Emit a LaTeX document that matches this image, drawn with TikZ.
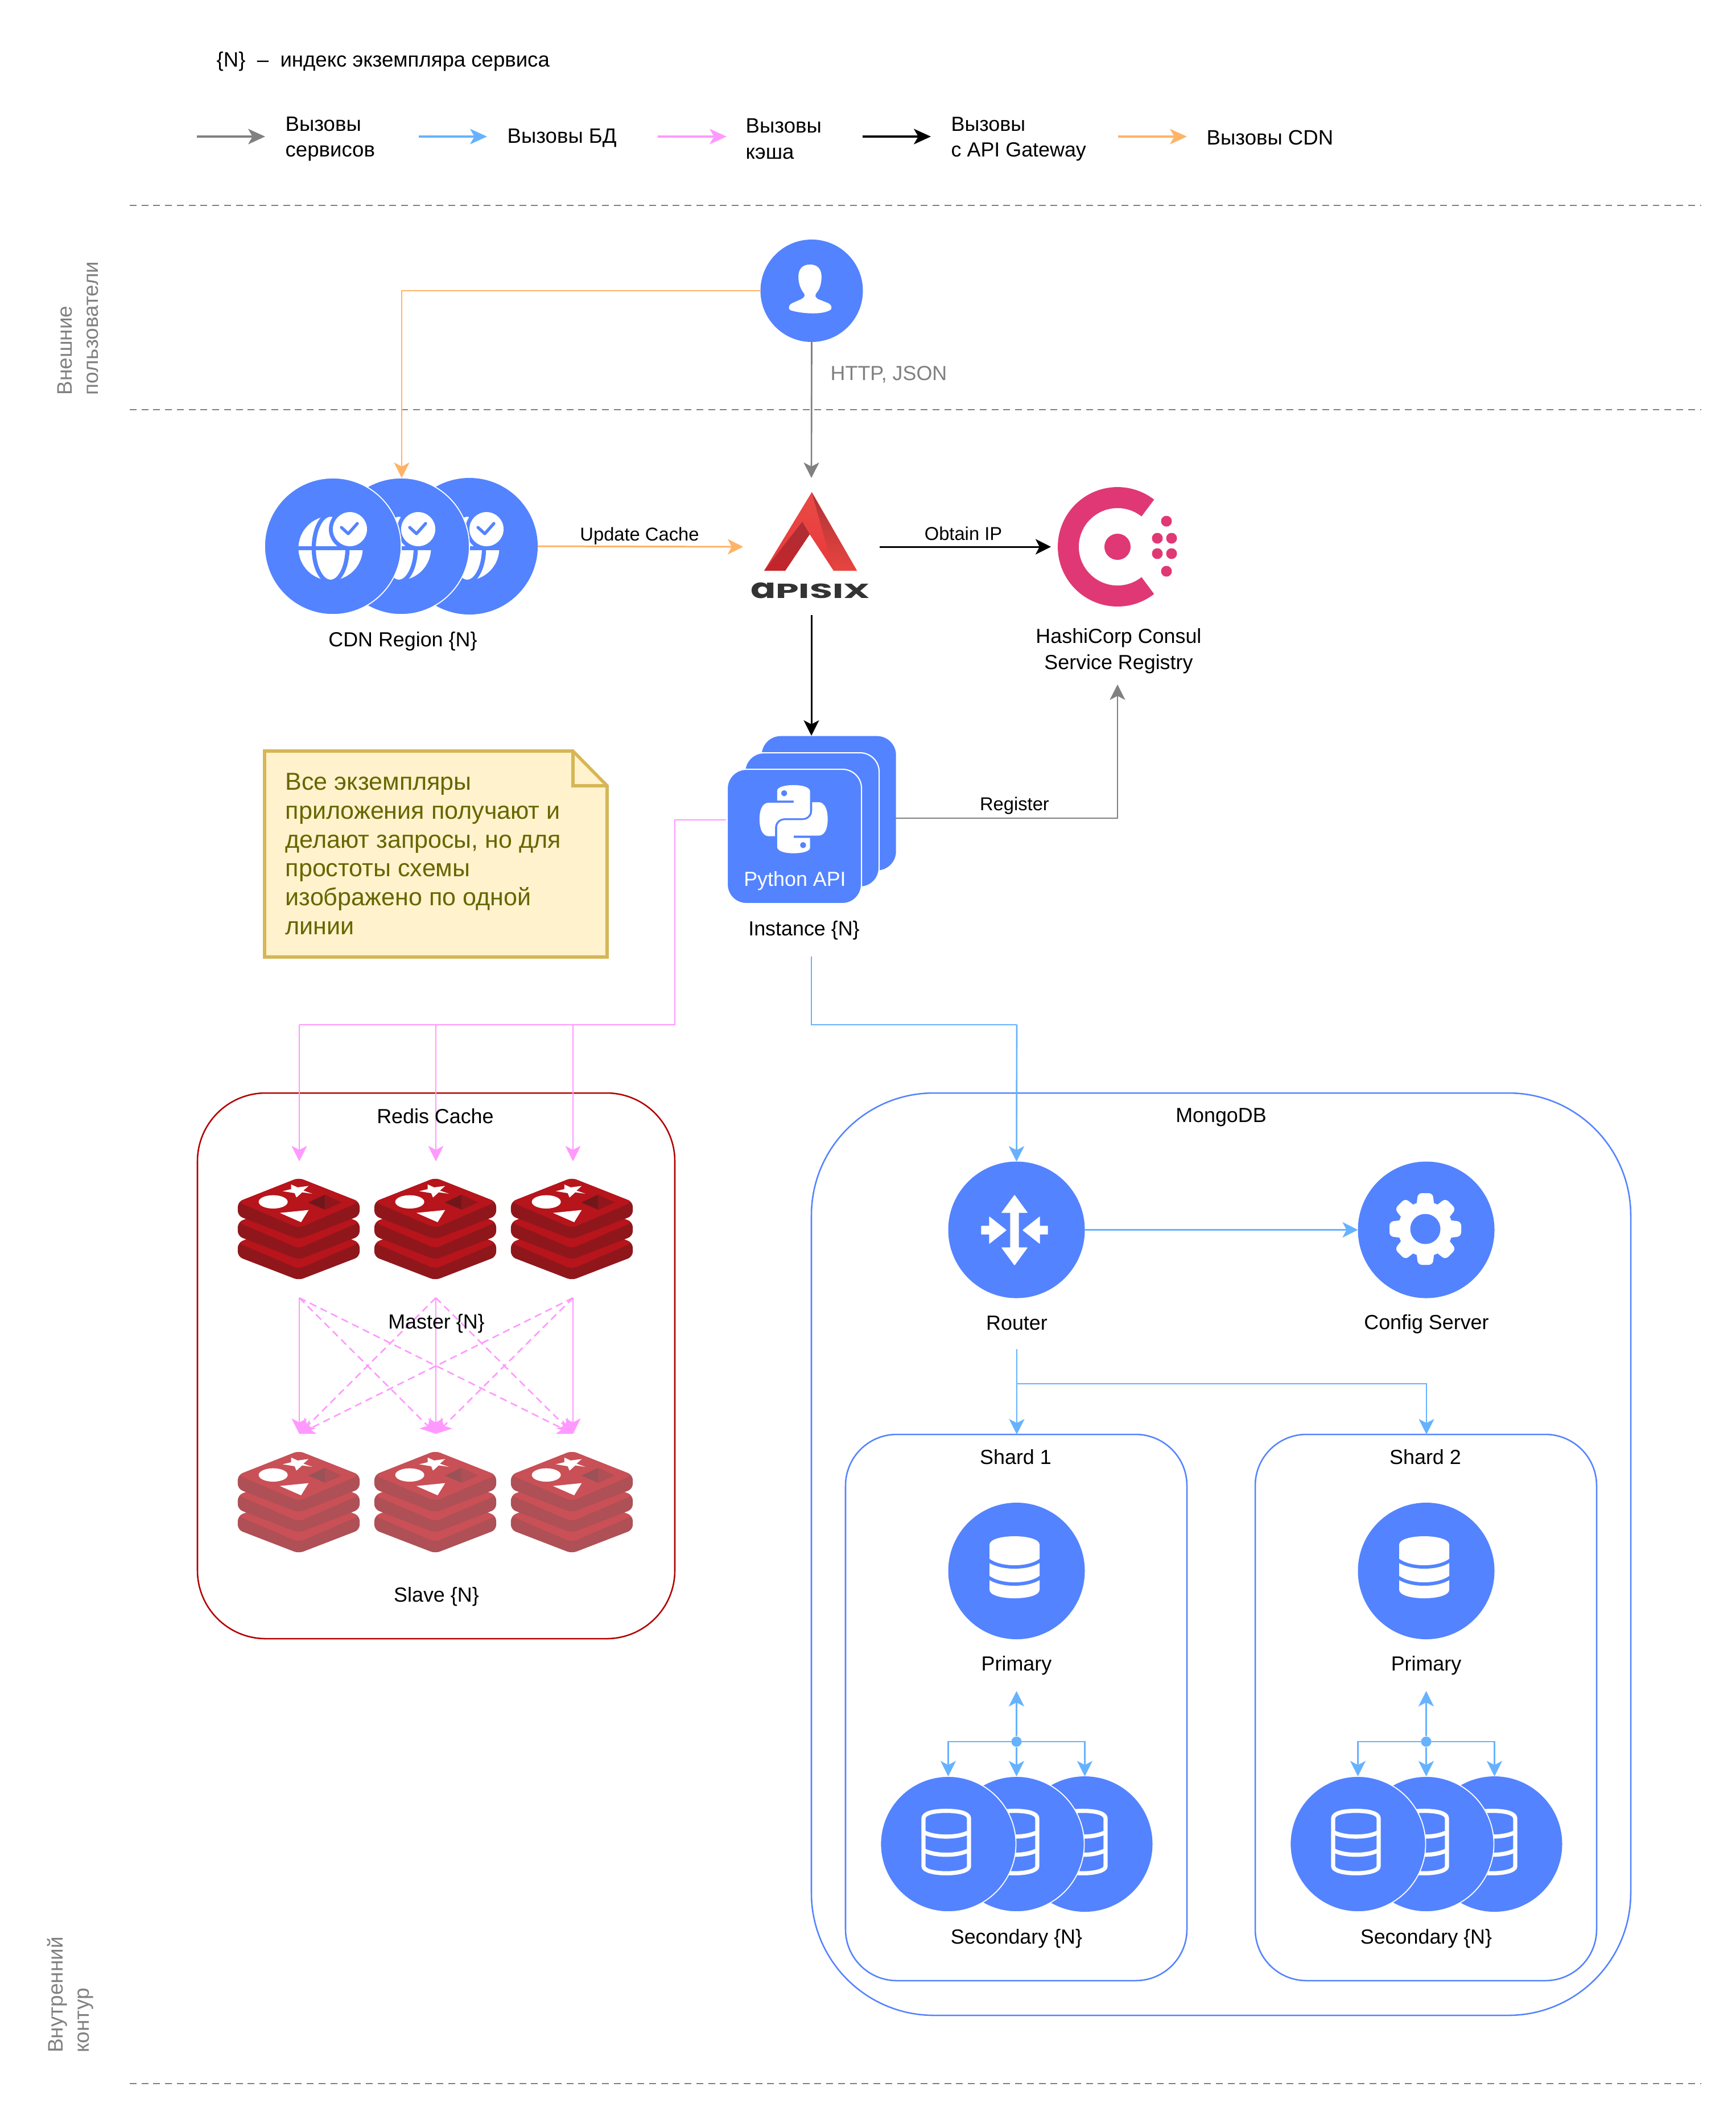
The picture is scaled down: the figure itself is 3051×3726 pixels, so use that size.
\documentclass[tikz,border=0pt]{standalone}
\usepackage{fontspec}
\setmainfont{Liberation Sans}
\newfontfamily\apxfont{Poppins}
\usetikzlibrary{arrows.meta,shapes.geometric,calc}
\definecolor{cblue}{HTML}{5383FF}
\definecolor{linkblue}{HTML}{66B2FF}
\definecolor{linkpink}{HTML}{FF99FF}
\definecolor{linkorange}{HTML}{FFB366}
\definecolor{linkgray}{HTML}{808080}
\definecolor{redisline}{HTML}{B20000}
\definecolor{notefill}{HTML}{FFF2CC}
\definecolor{noteline}{HTML}{D6B656}
\definecolor{notetext}{HTML}{666600}
\definecolor{consulc}{HTML}{E03875}
\definecolor{mface}{HTML}{B7141B}
\definecolor{mside}{HTML}{8F171C}
\definecolor{mdarkA}{HTML}{71171B}
\definecolor{mdarkB}{HTML}{8F171B}
\definecolor{sface}{HTML}{C95056}
\definecolor{sside}{HTML}{AE5056}
\definecolor{sdarkA}{HTML}{9A5256}
\definecolor{sdarkB}{HTML}{AE5056}
\definecolor{apxA}{HTML}{E94A45}
\definecolor{apxB}{HTML}{E9393B}
\definecolor{apxC}{HTML}{AB2F35}
\definecolor{apxD}{HTML}{C4242B}
\definecolor{apxE}{HTML}{AD3237}
\definecolor{apxF}{HTML}{E8453F}
\tikzset{
  ico/.style={circle,fill=cblue,minimum size=240*0.01cm,inner sep=0pt,outer sep=0pt},
  icow/.style={ico,draw=white,line width=0.5pt},
  lbl/.style={font=\fontsize{10.2}{13.1}\selectfont,align=center,inner sep=0pt,text=black,yshift=-0.6pt},
  lbll/.style={lbl,font=\fontsize{10.4}{12.9}\selectfont,align=left,anchor=west},
  lbs/.style={font=\fontsize{9.3}{11}\selectfont,align=center,inner sep=0pt,text=black,yshift=-0.6pt},
  sidelbl/.style={font=\fontsize{10.5}{13.1}\selectfont,inner sep=0pt,text=linkgray,align=left,rotate=90},
  conn/.style={line width=0.75pt,-{Stealth[length=7.7pt,width=7.7pt,inset=2pt]}},
  plain/.style={line width=0.75pt},
  legarrow/.style={line width=1pt,-{Stealth[length=8.5pt,width=7.7pt,inset=2.2pt]}},
  sepline/.style={linkgray,line width=0.7pt,dash pattern=on 3.4pt off 2.5pt},
  dashp/.style={dash pattern=on 3.6pt off 2.3pt},
  bigbox/.style={draw,line width=0.72pt,inner sep=0pt,outer sep=0pt,anchor=north west},
  card/.style={rectangle,fill=cblue,rounded corners=9.5pt,minimum width=236*0.01cm,minimum height=236*0.01cm,inner sep=0pt,anchor=north west},
}
\newcommand\redisicon[6]{%
\begin{scope}[shift={(#1,#2)},x=0.005102cm,y=-0.005102cm]
 \foreach \dy in {141,70,0}{
  \fill[#4,rounded corners=2.5pt] (-210,83+\dy)--(0,0+\dy)--(210,83+\dy)--(210,131+\dy)--(0,212+\dy)--(-210,131+\dy)--cycle;
  \fill[#3,rounded corners=2.5pt] (-210,83+\dy)--(0,0+\dy)--(210,83+\dy)--(0,173+\dy)--cycle;
 }
 \fill[white] (-88,83) ellipse [x radius=50,y radius=23];
 \fill[white] (-55,46)--(-26,39)--(-26,23)--(-4,33)--(34,28)--(16,44)--(47,55)--(12,50)--(-8,68)--(-14,53)--cycle;
 \fill[white] (-65,121)--(34,111)--(8,153)--cycle;
 \fill[#5] (33,85)--(91,58)--(91,110)--cycle;
 \fill[#6] (91,58)--(148,85)--(91,110)--cycle;
\end{scope}}
\newcommand\dbsolid[2]{%
\begin{scope}[shift={(#1,#2)}]
 \fill[white] (-44,15) .. controls (-44,5) and (-22,0) .. (0,0) .. controls (22,0) and (44,5) .. (44,15) -- (44,94) .. controls (44,104) and (22,109) .. (0,109) .. controls (-22,109) and (-44,104) .. (-44,94) -- cycle;
 \draw[cblue,line width=1.7pt] (-46,42) .. controls (-25,58) and (25,58) .. (46,42);
 \draw[cblue,line width=1.7pt] (-46,72) .. controls (-25,88) and (25,88) .. (46,72);
\end{scope}}
\newcommand\dboutline[2]{%
\begin{scope}[shift={(#1,#2)},white,line width=2.08pt,line join=round]
 \draw (-40,17) .. controls (-40,7) and (-20,3.6) .. (0,3.6) .. controls (20,3.6) and (40,7) .. (40,17) -- (40,101) .. controls (40,109) and (20,113.3) .. (0,113.3) .. controls (-20,113.3) and (-40,109) .. (-40,101) -- cycle;
 \draw (-40,41) .. controls (-20,51.5) and (20,51.5) .. (40,41);
 \draw (-40,72.7) .. controls (-20,83.5) and (20,83.5) .. (40,72.7);
\end{scope}}
\newcommand\cdnicon[2]{%
\begin{scope}[shift={(#1,#2)}]
 \fill[white] (-4,3.5) circle (56.5);
 \draw[cblue,line width=2.08pt] (-4,3.5) ellipse [x radius=29.6,y radius=59];
 \fill[cblue] (-62,0) rectangle (60,7.3);
 \fill[cblue] (7,-70) rectangle (70,0);
 \fill[cblue] (30,-30) circle (37);
 \fill[white] (30,-30) circle (30);
 \draw[cblue,line width=1.5pt,line cap=round,line join=round] (15,-33)--(27,-22)--(43,-40);
\end{scope}}
\begin{document}
\begin{tikzpicture}[x=0.01cm,y=-0.01cm]
\useasboundingbox (0,0) rectangle (3051,3726);
% separators
\coordinate (sa1) at (228,361); \coordinate (sa2) at (2990,361);
\coordinate (sb1) at (228,720); \coordinate (sb2) at (2990,720);
\coordinate (sc1) at (228,3662); \coordinate (sc2) at (2990,3662);
\draw[sepline] (sa1)--(sa2);
\draw[sepline] (sb1)--(sb2);
\draw[sepline] (sc1)--(sc2);
% legend
\node[lbll] (legN) at (380,106) {\{N\}\ \ –\ \ индекс экземпляра сервиса};
\foreach \n/\a/\b/\c in {A/346/466/linkgray,B/736/856/linkblue,C/1156/1277/linkpink,D/1516/1636/black,E/1965/2086/linkorange}{
  \coordinate (leg\n s) at (\a,240); \coordinate (leg\n e) at (\b,240);
  \draw[legarrow,\c] (leg\n s)--(leg\n e);
}
\node[lbll] (legA) at (501,242) {Вызовы\\сервисов};
\node[lbll] (legB) at (891,240) {Вызовы БД};
\node[lbll] (legC) at (1310,242) {Вызовы\\кэша};
\node[lbll,font=\fontsize{10.2}{12.9}\selectfont] (legD) at (1671,242) {Вызовы\\с API Gateway};
\node[lbll] (legE) at (2120,240) {Вызовы CDN};
% side labels
\node[sidelbl] (sideA) at (137,577) {Внешние\\пользователи};
\node[sidelbl] (sideB) at (124,3506) {Внутренний\\контур};
% boxes
\node[bigbox,draw=redisline,rounded corners=1.2cm,minimum width=839*0.01cm,minimum height=959*0.01cm] (redisbox) at (347,1921) {};
\node[bigbox,draw=cblue,rounded corners=2.15cm,minimum width=1440*0.01cm,minimum height=1621*0.01cm] (mongobox) at (1426,1921) {};
\node[bigbox,draw=cblue,rounded corners=0.9cm,minimum width=600*0.01cm,minimum height=960*0.01cm] (shard1) at (1486,2521) {};
\node[bigbox,draw=cblue,rounded corners=0.9cm,minimum width=600*0.01cm,minimum height=960*0.01cm] (shard2) at (2206,2521) {};
% user
\node[ico,minimum size=180*0.01cm] (user) at (1426.5,511) {};
\begin{scope}[shift={(1320,410)},x=0.003333cm,y=-0.003333cm]
 \fill[white] (311,165) .. controls (270,165) and (250,190) .. (250,230) .. controls (250,270) and (265,300) .. (280,318) .. controls (287,330) and (280,340) .. (265,348) -- (215,370) .. controls (200,378) and (195,395) .. (205,405) .. controls (250,422) and (370,435) .. (418,405) .. controls (428,400) and (428,380) .. (410,370) -- (355,348) .. controls (340,340) and (335,330) .. (345,315) .. controls (360,300) and (372,270) .. (372,230) .. controls (372,190) and (352,165) .. (311,165) -- cycle;
\end{scope}
% CDN
\node[ico] (cdn3) at (825,960) {}; \cdnicon{825}{960}
\node[icow] (cdn2) at (705,960) {}; \cdnicon{705}{960}
\node[icow] (cdn1) at (585,960) {}; \cdnicon{585}{960}
\node[lbl] (cdnlbl) at (708,1125) {CDN Region \{N\}};
% APISIX
\shade[top color=apxA,bottom color=apxB] (1426.7,865)--(1506,1003)--(1465,1003)--(1423,939)--(1380,1003)--(1343,1003)--cycle;
\shade[top color=apxC,bottom color=apxD] (1410,917)--(1423,939)--(1380,1003)--(1343,1003)--cycle;
\shade[top color=apxE,bottom color=apxF] (1426.7,865)--(1506,1003)--(1465,1003)--cycle;
\node[inner sep=0pt,text=black!80] (apisix) at (1424,1037.5) {\resizebox{59.7pt}{7.8pt}{\apxfont\bfseries\scalebox{1}[1.35]{a}PISIX}};
% Consul
\coordinate (consul) at (1964,961);
\draw[consulc,line width=10.5pt] (consul)+(52:86.5) arc (52:308:86.5);
\fill[consulc] (consul) circle (23);
\foreach \dx/\dy in {86/-45,70/-15,95/-15,70/12,95/12,86/43}{\fill[consulc] ($(consul)+(\dx,\dy)$) circle (9.5);}
\node[lbl] (consullbl) at (1966,1142) {HashiCorp Consul\\Service Registry};
% Python cards
\node[card] (py3) at (1338,1293) {};
\node[card,draw=white,line width=0.6pt] (py2) at (1308,1322) {};
\node[card,draw=white,line width=0.6pt] (py1) at (1277,1351) {};
\begin{scope}[shift={(1240,1270)},x=0.003333cm,y=-0.003333cm]
 \foreach \ang in {0,180}{
 \begin{scope}[rotate around={\ang:(465,510)}]
  \fill[white] (378,411) -- (378,360) .. controls (378,340) and (420,330) .. (465,330) .. controls (510,330) and (552,340) .. (552,365) -- (552,465) .. controls (552,490) and (535,505) .. (510,505) -- (420,505) .. controls (390,505) and (367,525) .. (367,555) -- (367,600) -- (335,600) .. controls (300,600) and (285,560) .. (285,510) .. controls (285,460) and (300,423) .. (335,423) -- (465,423) -- (465,411) -- cycle;
  \fill[cblue] (415,373) circle (16);
 \end{scope}}
\end{scope}
\node[lbl,text=white] (pyname) at (1397,1546) {Python API};
\node[lbl] (instlbl) at (1413,1633) {Instance \{N\}};
% Note
\fill[notefill,draw=noteline,line width=1.6pt,line join=miter] (465,1320)--(1007,1320)--(1067,1381)--(1067,1682)--(465,1682)--cycle;
\draw[noteline,line width=1.6pt] (1007,1320)--(1007,1381)--(1067,1381);
\node[inner sep=0pt,anchor=north west,align=left,text=notetext,font=\fontsize{12.25}{14.45}\selectfont] (note) at (501,1358) {Все экземпляры\\приложения получают и\\делают запросы, но для\\простоты схемы\\изображено по одной\\линии};
% top connectors
\coordinate (gwtop) at (1426,840);
\coordinate (gwleft) at (1306,961);
\coordinate (gwright) at (1546,961);
\coordinate (consulin) at (1847,961);
\coordinate (gwbot) at (1426,1081);
\coordinate (cdntop) at (706,840);
\draw[conn,linkgray] (user.south)--(gwtop);
\draw[conn,linkorange] (user.west) -| (cdntop);
\draw[conn,linkorange,line width=0.85pt] (cdn3.east)--(gwleft);
\draw[conn,black,line width=0.85pt] (gwright)--(consulin);
\draw[conn,black,line width=0.85pt] (gwbot)--(py3.north -| gwbot);
\node[lbl,text=linkgray,anchor=west] (http) at (1459,656) {HTTP, JSON};
\node[lbs] (upd) at (1124,940) {Update Cache};
\node[lbs] (obt) at (1693,936) {Obtain IP};
\node[lbs] (regl) at (1783,1414) {Register};
\coordinate (regs) at (1574,1438);
\coordinate (rege) at (1964,1203);
\draw[conn,linkgray] (regs) -| (rege);
% pink tree
\coordinate (pk0) at (1276,1441); \coordinate (pk1) at (1186,1441); \coordinate (pk2) at (1186,1801);
\foreach \n/\x in {1/526,2/766,3/1007}{
  \coordinate (pkb\n) at (\x,1801);
  \coordinate (mt\n) at (\x,2041);
  \coordinate (mb\n) at (\x,2281);
  \coordinate (st\n) at (\x,2520);
}
\draw[plain,linkpink] (pk0)--(pk1)--(pk2)--(pkb1);
\foreach \n in {1,2,3}{\draw[conn,linkpink] (pkb\n)--(mt\n);}
% redis
\foreach \x in {525,765,1005}{
  \redisicon{\x}{2070}{mface}{mside}{mdarkA}{mdarkB}
  \redisicon{\x}{2550}{sface}{sside}{sdarkA}{sdarkB}
}
\foreach \n in {1,2,3}{\draw[conn,linkpink] (mb\n)--(st\n);}
\foreach \a/\b in {1/2,1/3,2/1,2/3,3/1,3/2}{\draw[conn,linkpink,dashp] (mb\a)--(st\b);}
\node[lbl] (rediscap) at (765,1960) {Redis Cache};
\node[lbl] (masterlbl) at (767,2324) {Master \{N\}};
\node[lbl] (slavelbl) at (767,2804) {Slave \{N\}};
% mongo
\node[lbl] (mongocap) at (2146,1962) {MongoDB};
\node[ico] (router) at (1786.5,2161.5) {};
\node[ico] (config) at (2506.5,2161.5) {};
\begin{scope}[shift={(1783,2162)}]
 \fill[white,line join=round,draw=white,line width=0.4pt] (0,-61)--(22,-31)--(7,-31)--(7,31)--(22,31)--(0,61)--(-22,31)--(-7,31)--(-7,-31)--(-22,-31)--cycle;
 \fill[white,line join=round,draw=white,line width=0.4pt] (-58,-7)--(-44,-7)--(-44,-23)--(-15,0)--(-44,23)--(-44,7)--(-58,7)--cycle;
 \fill[white,line join=round,draw=white,line width=0.4pt] (58,-7)--(44,-7)--(44,-23)--(15,0)--(44,23)--(44,7)--(58,7)--cycle;
\end{scope}
\begin{scope}[shift={(2505,2160)}]
 \foreach \a in {0,45,...,315}{\fill[white,rounded corners=2pt,rotate=\a] (-16,-38)--(-13,-63)--(13,-63)--(16,-38)--cycle;}
 \fill[white] (0,0) circle (48);
 \fill[cblue] (0,0) circle (26.5);
\end{scope}
\node[lbl] (routerlbl) at (1787,2323) {Router};
\node[lbl] (configlbl) at (2507,2325) {Config Server};
\coordinate (mgs) at (1426,1681); \coordinate (mgb) at (1426,1801); \coordinate (mgc) at (1787,1801);
\draw[plain,linkblue] (mgs)--(mgb)--(mgc);
\draw[conn,linkblue] (mgc)--(router.north);
\draw[conn,linkblue] (router.east)--(config.west);
\coordinate (rts) at (1787,2371); \coordinate (rtb) at (1787,2432);
\draw[conn,linkblue] (rts)--(shard1.north -| rts);
\draw[conn,linkblue] (rtb) -| (2507,2521);
\node[lbl] (s1lbl) at (1785,2559) {Shard 1};
\node[lbl] (s2lbl) at (2505,2559) {Shard 2};
\foreach \sh/\cx in {1/1786.5,2/2506.5}{
  \node[ico] (prim\sh) at (\cx,2761) {};
  \dbsolid{\cx-3.5}{2700}
  \node[lbl] (primlbl\sh) at (\cx,2925) {Primary};
  \node[ico,minimum size=238*0.01cm] (sec\sh c) at (\cx+120,3241) {};
  \dboutline{\cx+116.5}{3179}
  \node[icow,minimum size=238*0.01cm] (sec\sh b) at (\cx,3241) {};
  \dboutline{\cx-3.5}{3179}
  \node[icow,minimum size=238*0.01cm] (sec\sh a) at (\cx-120,3241) {};
  \dboutline{\cx-123.5}{3179}
  \node[lbl] (seclbl\sh) at (\cx,3405) {Secondary \{N\}};
  \node[circle,fill=linkblue,minimum size=18*0.01cm,inner sep=0pt] (hub\sh) at (\cx,3061) {};
  \coordinate (hubup\sh) at (\cx,2972);
  \draw[conn,linkblue] (hub\sh)--(hubup\sh);
  \draw[conn,linkblue] (hub\sh.center) -| (sec\sh a.north);
  \draw[conn,linkblue] (hub\sh)--(sec\sh b.north);
  \draw[conn,linkblue] (hub\sh.center) -| (sec\sh c.north);
}
\end{tikzpicture}
\end{document}
